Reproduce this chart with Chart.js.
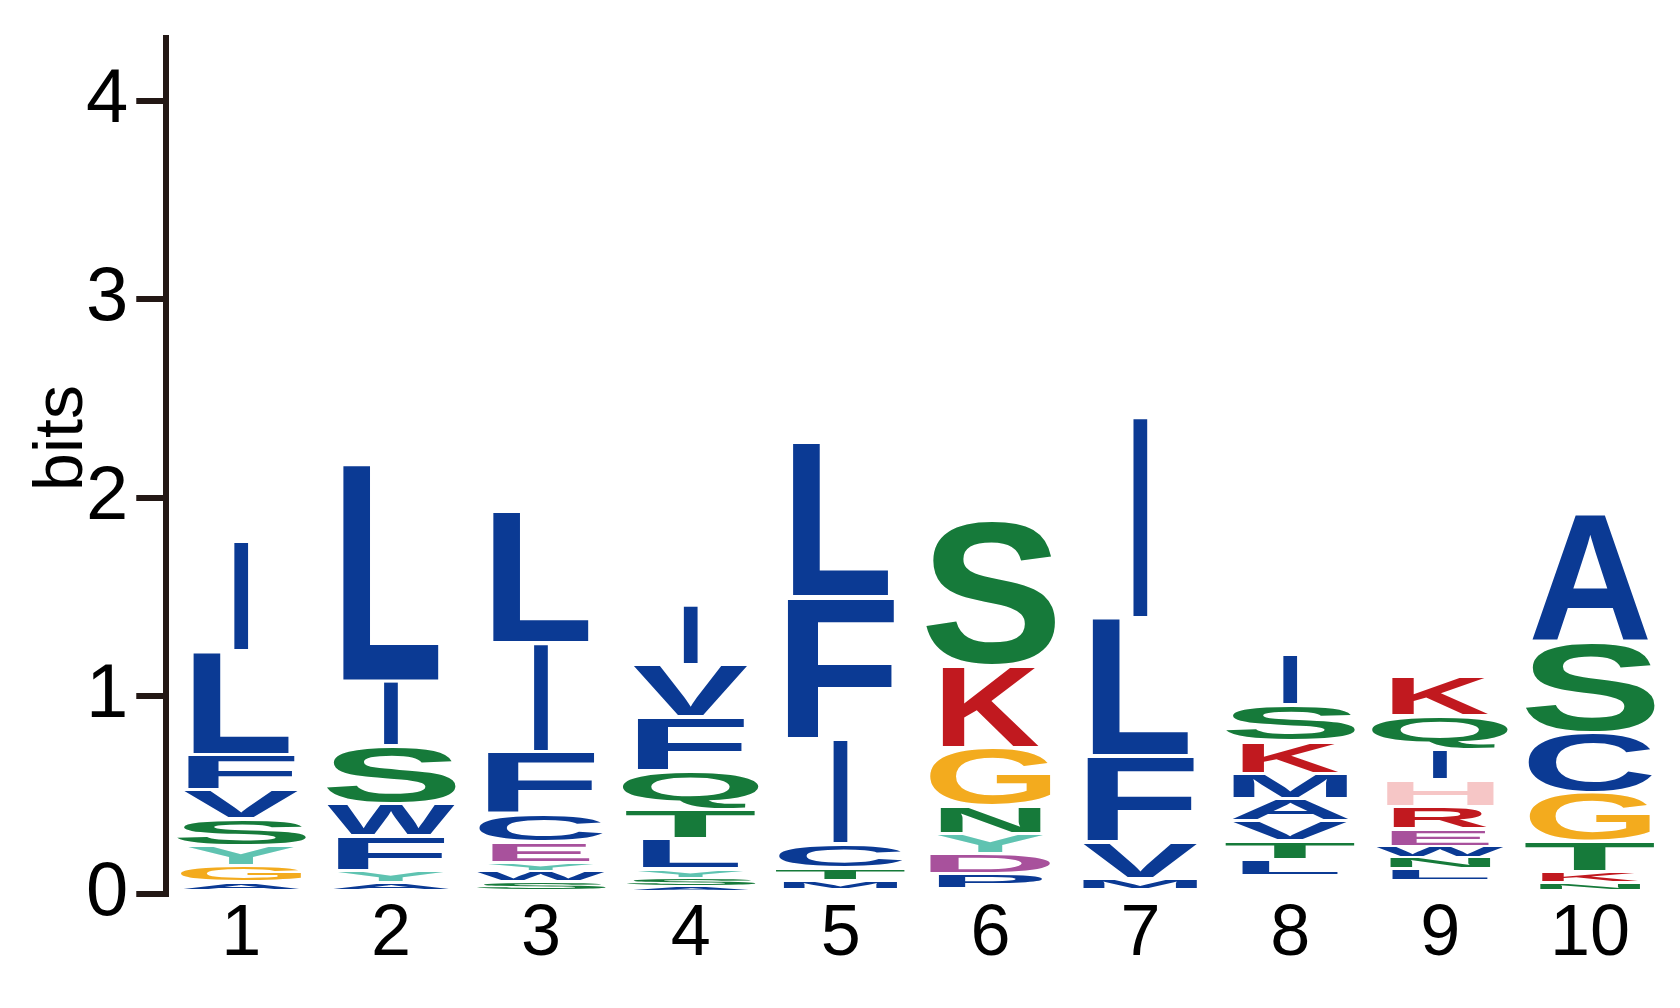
<!DOCTYPE html>
<html>
<head>
<meta charset="utf-8">
<style>
  html, body { margin: 0; background: #fff; }
  canvas { display: block; }
</style>
<script src="https://cdn.jsdelivr.net/npm/chart.js@4.4.1/dist/chart.umd.min.js"></script>
</head>
<body>
<canvas id="logo" width="1680" height="1008"></canvas>
<script>
"use strict";

// Stacks are listed bottom -> top, heights in bits.
// An empty letter is space in the stack with no visible residue.
const positions = ["1", "2", "3", "4", "5", "6", "7", "8", "9", "10"];

const pos1Letters = ["A", "G", "Y", "S", "V", "F", "L", "I"];
const pos1Bits = [0.050, 0.082, 0.101, 0.135, 0.147, 0.180, 0.521, 0.557];

const pos2Letters = ["A", "Y", "F", "W", "S", "I", "L"];
const pos2Bits = [0.052, 0.055, 0.175, 0.166, 0.289, 0.327, 1.097];

const pos3Letters = ["S", "W", "Y", "E", "C", "F", "I", "L"];
const pos3Bits = [0.054, 0.053, 0.043, 0.103, 0.140, 0.314, 0.551, 0.661];

const pos4Letters = ["A", "S", "Y", "L", "T", "Q", "F", "V", "I"];
const pos4Bits = [0.035, 0.039, 0.045, 0.152, 0.150, 0.190, 0.274, 0.264, 0.302];

const pos5Letters = ["M", "T", "C", "I", "F", "L"];
const pos5Bits = [0.062, 0.057, 0.123, 0.534, 0.716, 0.782];

const pos6Letters = ["P", "D", "Y", "N", "G", "K", "S"];
const pos6Bits = [0.091, 0.100, 0.101, 0.143, 0.294, 0.412, 0.735];

const pos7Letters = ["M", "V", "F", "L", "I"];
const pos7Bits = [0.069, 0.184, 0.437, 0.695, 1.020];

const pos8Letters = ["", "L", "T", "V", "A", "M", "K", "S", "I"];
const pos8Bits = [0.081, 0.082, 0.096, 0.100, 0.113, 0.127, 0.163, 0.185, 0.257];

const pos9Letters = ["", "L", "N", "W", "E", "R", "H", "I", "Q", "K"];
const pos9Bits = [0.060, 0.059, 0.056, 0.055, 0.087, 0.115, 0.137, 0.151, 0.172, 0.201];

const pos10Letters = ["N", "K", "T", "G", "C", "S", "A"];
const pos10Bits = [0.049, 0.053, 0.152, 0.248, 0.302, 0.455, 0.649];

const yTicks = [0, 1, 2, 3, 4];
const yTitle = "bits";

// ---- Styling ---------------------------------------------------------------

const BLUE = "#0b3a94";
const GREEN = "#167a3a";
const TEAL = "#5fc3b1";
const ORANGE = "#f3ab1e";
const RED = "#c1191f";
const PINK = "#f6c6c6";
const MAGENTA = "#a8519c";
const AXIS = "#231815";

const LETTER_COLOUR = {
  A: BLUE, C: BLUE, F: BLUE, I: BLUE, L: BLUE, M: BLUE, P: BLUE, V: BLUE, W: BLUE,
  S: GREEN, T: GREEN, Q: GREEN, N: GREEN,
  Y: TEAL, G: ORANGE, K: RED, R: RED, H: PINK, D: MAGENTA, E: MAGENTA,
};

// share of the column width each glyph takes
const LETTER_WIDTH = {
  I: 0.11, L: 0.74, F: 0.82, E: 0.75, K: 0.74, R: 0.72, N: 0.77, H: 0.82,
  Y: 0.82, V: 0.88, M: 0.88, A: 0.9, P: 0.8, D: 0.93, G: 0.93, C: 0.95,
  W: 0.98, S: 1.0, T: 1.0, Q: 1.05,
};

const GLYPH_FONT = 'bold 200px "Liberation Sans", Arial, sans-serif';
const LABEL_FONT = "Liberation Sans";

// ---- Datasets: one per rank in the stack -----------------------------------

const stacks = [
  [pos1Letters, pos1Bits], [pos2Letters, pos2Bits], [pos3Letters, pos3Bits],
  [pos4Letters, pos4Bits], [pos5Letters, pos5Bits], [pos6Letters, pos6Bits],
  [pos7Letters, pos7Bits], [pos8Letters, pos8Bits], [pos9Letters, pos9Bits],
  [pos10Letters, pos10Bits],
];

const depth = Math.max(...stacks.map(([letters]) => letters.length));
const datasets = [];
for (let k = 0; k < depth; k++) {
  datasets.push({
    label: `rank ${k + 1}`,
    data: stacks.map(([, bits]) => bits[k] ?? 0),
    letters: stacks.map(([letters]) => letters[k] ?? ""),
    backgroundColor: "rgba(0,0,0,0)",
    borderWidth: 0,
  });
}

// ---- Letter drawing --------------------------------------------------------

const glyphCache = {};

function glyphBox(ctx, ch) {
  if (!glyphCache[ch]) {
    ctx.save();
    ctx.font = GLYPH_FONT;
    const m = ctx.measureText(ch);
    ctx.restore();
    glyphCache[ch] = {
      left: m.actualBoundingBoxLeft,
      asc: m.actualBoundingBoxAscent,
      w: m.actualBoundingBoxLeft + m.actualBoundingBoxRight,
      h: m.actualBoundingBoxAscent + m.actualBoundingBoxDescent,
    };
  }
  return glyphCache[ch];
}

// Stretch each residue glyph into the rectangle of its stacked bar.
const letterPlugin = {
  id: "letters",
  afterDatasetsDraw(chart) {
    const ctx = chart.ctx;
    chart.data.datasets.forEach((ds, i) => {
      chart.getDatasetMeta(i).data.forEach((bar, j) => {
        const ch = ds.letters[j];
        if (!ch) return;
        const { x, y, base, width } = bar.getProps(["x", "y", "base", "width"], true);
        const top = Math.min(y, base);
        const h = Math.abs(base - y);
        if (h < 0.5) return;
        const gap = h > 14 ? 3.5 : h * 0.25;
        const w = width * (LETTER_WIDTH[ch] || 0.9);
        const g = glyphBox(ctx, ch);
        ctx.save();
        ctx.translate(x - w / 2, top);
        ctx.scale(w / g.w, (h - gap) / g.h);
        ctx.font = GLYPH_FONT;
        ctx.textAlign = "left";
        ctx.textBaseline = "alphabetic";
        ctx.fillStyle = LETTER_COLOUR[ch] || BLUE;
        ctx.fillText(ch, g.left, g.asc);
        ctx.restore();
      });
    });
  },
};

// The "bits" label sits a little above the middle of the axis, so it is
// drawn here instead of through the scale title.
const yTitlePlugin = {
  id: "yTitle",
  afterDraw(chart) {
    const ctx = chart.ctx;
    ctx.save();
    ctx.translate(82, 438);
    ctx.rotate(-Math.PI / 2);
    ctx.font = `68px "${LABEL_FONT}"`;
    ctx.fillStyle = "#000";
    ctx.textAlign = "center";
    ctx.textBaseline = "alphabetic";
    ctx.fillText(yTitle, 0, 0);
    ctx.restore();
  },
};

// ---- Chart -----------------------------------------------------------------

new Chart(document.getElementById("logo"), {
  type: "bar",
  data: { labels: positions, datasets },
  plugins: [letterPlugin, yTitlePlugin],
  options: {
    responsive: false,
    devicePixelRatio: 1,
    animation: false,
    layout: { padding: { left: 78, top: 38, right: 15, bottom: 31 } },
    datasets: { bar: { categoryPercentage: 1, barPercentage: 0.866 } },
    plugins: { legend: { display: false }, tooltip: { enabled: false } },
    scales: {
      x: {
        stacked: true,
        grid: { display: false, drawTicks: false },
        border: { display: false },
        ticks: {
          color: "#000",
          padding: 2,
          maxRotation: 0,
          font: { family: LABEL_FONT, size: 72, lineHeight: 1.1 },
        },
      },
      y: {
        stacked: true,
        min: 0,
        max: 4.32,
        afterBuildTicks: (scale) => {
          scale.ticks = yTicks.map((value) => ({ value }));
        },
        grid: {
          drawOnChartArea: false,
          drawTicks: true,
          tickLength: 30,
          tickWidth: 6,
          lineWidth: 6,
          tickColor: AXIS,
        },
        border: { display: true, color: AXIS, width: 6 },
        ticks: {
          color: "#000",
          padding: 8,
          font: { family: LABEL_FONT, size: 76, lineHeight: 0.75 },
        },
      },
    },
  },
});
</script>
</body>
</html>
